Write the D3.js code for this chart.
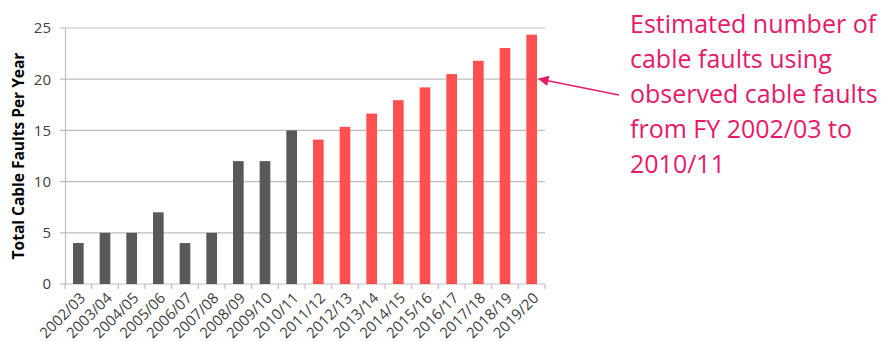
<!DOCTYPE html>
<html>
<head>
<meta charset="utf-8">
<script src="https://cdn.jsdelivr.net/npm/d3@7"></script>
<style>
  body { margin: 0; background: #fff; }
  text { font-family: "Open Sans", sans-serif; }
</style>
</head>
<body>
<div id="chart"></div>
<script>
var svgWidth = 881;
var svgHeight = 342;

var margin = { top: 28, right: 336, bottom: 58, left: 65 };
var width = svgWidth - margin.left - margin.right;
var height = svgHeight - margin.top - margin.bottom;

// Data
var observedYears = ["2002/03", "2003/04", "2004/05", "2005/06", "2006/07", "2007/08", "2008/09", "2009/10", "2010/11"];
var observedFaults = [4, 5, 5, 7, 4, 5, 12, 12, 15];
var estimatedYears = ["2011/12", "2012/13", "2013/14", "2014/15", "2015/16", "2016/17", "2017/18", "2018/19", "2019/20"];
var estimatedFaults = [14.1, 15.35, 16.65, 17.95, 19.2, 20.5, 21.8, 23.05, 24.35];
var yTicks = [0, 5, 10, 15, 20, 25];
var noteLines = ["Estimated number of", "cable faults using", "observed cable faults", "from FY 2002/03 to", "2010/11"];

var rows = observedYears.map(function(y, i) { return { year: y, value: observedFaults[i], kind: "obs" }; })
  .concat(estimatedYears.map(function(y, i) { return { year: y, value: estimatedFaults[i], kind: "est" }; }));

var svg = d3.select("#chart")
  .append("svg")
  .attr("width", svgWidth)
  .attr("height", svgHeight);

var chartGroup = svg.append("g")
  .attr("transform", `translate(${margin.left}, ${margin.top})`);

// Scales
var xBandScale = d3.scaleBand()
  .domain(rows.map(d => d.year))
  .range([0, width])
  .paddingInner(0.6)
  .paddingOuter(0.3);

var yLinearScale = d3.scaleLinear()
  .domain([0, 25])
  .range([height, 0]);

// Gridlines
chartGroup.append("g")
  .selectAll("line")
  .data(yTicks)
  .enter()
  .append("line")
  .attr("x1", -5)
  .attr("x2", width)
  .attr("y1", d => yLinearScale(d))
  .attr("y2", d => yLinearScale(d))
  .attr("stroke", "#bdbdbd")
  .attr("stroke-width", 1.2);

// Left axis
var leftAxis = d3.axisLeft(yLinearScale).tickValues(yTicks).tickSize(0).tickPadding(14);
var yAxisG = chartGroup.append("g").call(leftAxis);
yAxisG.select(".domain").attr("stroke", "#bdbdbd").attr("stroke-width", 1.2);
yAxisG.selectAll("text")
  .attr("font-size", 15)
  .attr("fill", "#404040")
  .style("font-family", "Open Sans, sans-serif");

// Bottom axis: tick marks at category boundaries
var step = xBandScale.step();
var boundaries = d3.range(rows.length + 1).map(i => i * step);
chartGroup.append("g")
  .selectAll("line")
  .data(boundaries)
  .enter()
  .append("line")
  .attr("x1", d => d)
  .attr("x2", d => d)
  .attr("y1", height)
  .attr("y2", height + 5)
  .attr("stroke", "#bdbdbd")
  .attr("stroke-width", 1.2);

// Bars
chartGroup.selectAll("rect.bar")
  .data(rows)
  .enter()
  .append("rect")
  .attr("class", "bar")
  .attr("x", d => xBandScale(d.year))
  .attr("width", xBandScale.bandwidth())
  .attr("y", d => yLinearScale(d.value))
  .attr("height", d => height - yLinearScale(d.value))
  .attr("fill", d => d.kind === "obs" ? "#595959" : "#ff4f4f");

// Rotated x labels
chartGroup.selectAll("text.xlab")
  .data(rows)
  .enter()
  .append("text")
  .attr("class", "xlab")
  .attr("text-anchor", "end")
  .attr("font-size", 15)
  .attr("fill", "#404040")
  .attr("transform", d => `translate(${xBandScale(d.year) + xBandScale.bandwidth() / 2 + 8}, ${height + 15}) rotate(-45)`)
  .text(d => d.year);

// Y axis title
svg.append("text")
  .attr("transform", `translate(24, ${margin.top + height / 2}) rotate(-90)`)
  .attr("text-anchor", "middle")
  .attr("font-size", 15.5)
  .attr("font-weight", "bold")
  .attr("fill", "#000")
  .text("Total Cable Faults Per Year");

// Annotation
var note = svg.append("text")
  .attr("fill", "#e8186b")
  .attr("font-size", 25);
note.selectAll("tspan")
  .data(noteLines)
  .enter()
  .append("tspan")
  .attr("x", 630)
  .attr("y", (d, i) => 33 + i * 35)
  .text(d => d);

// Arrow
svg.append("defs").append("marker")
  .attr("id", "arrowhead")
  .attr("viewBox", "0 0 10 10")
  .attr("refX", 9)
  .attr("refY", 5)
  .attr("markerWidth", 7)
  .attr("markerHeight", 7)
  .attr("orient", "auto")
  .append("path")
  .attr("d", "M0,0 L10,5 L0,10 z")
  .attr("fill", "#e8186b");

svg.append("line")
  .attr("x1", 619)
  .attr("y1", 95)
  .attr("x2", 539)
  .attr("y2", 79)
  .attr("stroke", "#e8186b")
  .attr("stroke-width", 1.5)
  .attr("marker-end", "url(#arrowhead)");
</script>
</body>
</html>
